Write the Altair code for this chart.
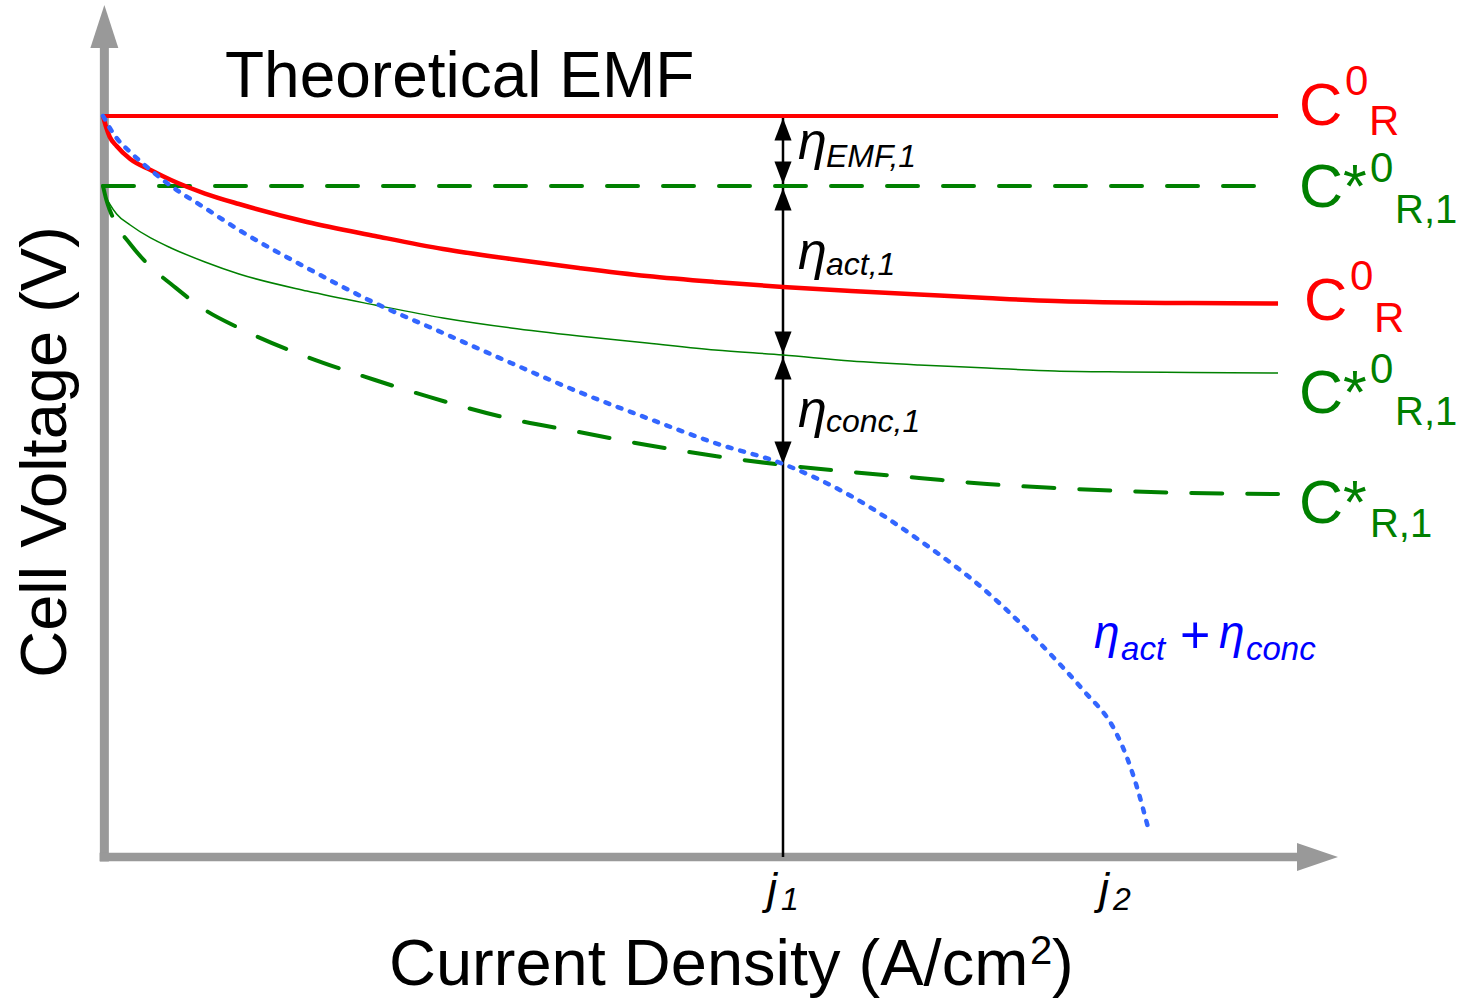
import altair as alt
import pandas as pd

# ---------------- data (j in units of j1, V normalised to theoretical EMF) ----------------
J_GRID = [0, 0.005, 0.01, 0.02, 0.04, 0.07, 0.1, 0.15, 0.2, 0.3, 0.4, 0.5, 0.6, 0.7,
          0.8, 0.9, 1.0, 1.1, 1.2, 1.3, 1.4, 1.5, 1.6, 1.728]
V_RED = [1.0, 0.9838, 0.9717, 0.9595, 0.9420, 0.9271, 0.9136, 0.8954, 0.8812, 0.8570,
         0.8381, 0.8205, 0.8070, 0.7949, 0.7841, 0.7760, 0.7692, 0.7638, 0.7591, 0.7544,
         0.7503, 0.7483, 0.7476, 0.7470]
V_GREEN_THIN = [0.9055, 0.8893, 0.8812, 0.8677, 0.8529, 0.8354, 0.8219, 0.8030, 0.7868,
                0.7638, 0.7449, 0.7274, 0.7139, 0.7031, 0.6937, 0.6842, 0.6775, 0.6694,
                0.6640, 0.6599, 0.6559, 0.6545, 0.6538, 0.6532]
V_GREEN_DASH = [0.9055, 0.8866, 0.8731, 0.8529, 0.8273, 0.7962, 0.7733, 0.7382, 0.7139,
                0.6748, 0.6437, 0.6154, 0.5911, 0.5735, 0.5560, 0.5412, 0.5290, 0.5196,
                0.5115, 0.5034, 0.4980, 0.4939, 0.4912, 0.4899]
J_BLUE = [0, 0.005, 0.01, 0.02, 0.04, 0.07, 0.1, 0.15, 0.2, 0.3, 0.4, 0.5, 0.6, 0.7,
          0.8, 0.9, 1.0, 1.1, 1.2, 1.3, 1.4, 1.44, 1.49, 1.505, 1.52, 1.537]
V_BLUE = [1.0, 0.9919, 0.9838, 0.9703, 0.9514, 0.9271, 0.9055, 0.8758, 0.8462, 0.7949,
          0.7476, 0.7072, 0.6667, 0.6275, 0.5924, 0.5587, 0.5304, 0.4872, 0.4278, 0.3576,
          0.2672, 0.2267, 0.1673, 0.1363, 0.0958, 0.0391]
EMF = [1.0]
EMF_STAR = [0.9055]
J_END = [1.728]
J1 = [1.0]
ARROW_UP_TIPS = [0.9973, 0.9028, 0.6748]
ARROW_DOWN_TIPS = [0.9082, 0.6788, 0.5304]

# text labels: (text, j, V, size, colour, italic, angle)
LABELS = [
    ("Theoretical EMF", 0.1794, 1.0256, 64, "black", False, 0),
    ("Cell Voltage (V)", -0.0544, 0.5466, 65, "black", False, 270),
    ("Current Density (A/cm", 0.4206, -0.1727, 65, "black", False, 0),
    ("2", 1.3632, -0.1444, 40, "black", False, 0),
    (")", 1.3956, -0.1727, 65, "black", False, 0),
    ("j", 0.9765, -0.0634, 45, "black", True, 0),
    ("1", 0.9971, -0.0715, 32, "black", True, 0),
    ("j", 1.4647, -0.0634, 45, "black", True, 0),
    ("2", 1.4853, -0.0715, 32, "black", True, 0),
    ("η", 1.0221, 0.9420, 52, "black", True, 0),
    ("EMF,1", 1.0632, 0.9312, 32, "black", True, 0),
    ("η", 1.0221, 0.7935, 52, "black", True, 0),
    ("act,1", 1.0632, 0.7854, 32, "black", True, 0),
    ("η", 1.0221, 0.5803, 52, "black", True, 0),
    ("conc,1", 1.0632, 0.5735, 32, "black", True, 0),
    ("η", 1.4574, 0.2821, 46, "#0000ff", True, 0),
    ("act", 1.4971, 0.2659, 33, "#0000ff", True, 0),
    ("+", 1.5838, 0.2753, 52, "#0000ff", False, 0),
    ("η", 1.6412, 0.2821, 46, "#0000ff", True, 0),
    ("conc", 1.6809, 0.2659, 33, "#0000ff", True, 0),
    ("C", 1.7588, 0.9879, 60, "#ff0000", False, 0),
    ("0", 1.8265, 1.0283, 42, "#ff0000", False, 0),
    ("R", 1.8618, 0.9744, 42, "#ff0000", False, 0),
    ("C*", 1.7588, 0.8772, 61, "#008000", False, 0),
    ("0", 1.8632, 0.9109, 42, "#008000", False, 0),
    ("R,1", 1.9000, 0.8556, 40, "#008000", False, 0),
    ("C", 1.7662, 0.7247, 60, "#ff0000", False, 0),
    ("0", 1.8338, 0.7652, 42, "#ff0000", False, 0),
    ("R", 1.8691, 0.7085, 42, "#ff0000", False, 0),
    ("C*", 1.7588, 0.5992, 61, "#008000", False, 0),
    ("0", 1.8632, 0.6397, 42, "#008000", False, 0),
    ("R,1", 1.9000, 0.5830, 40, "#008000", False, 0),
    ("C*", 1.7588, 0.4507, 61, "#008000", False, 0),
    ("R,1", 1.8632, 0.4318, 40, "#008000", False, 0),
]

FONT = "Liberation Sans"
GRAY = "#999999"
xs = alt.Scale(domain=[-0.151471, 2.0], nice=False, zero=False)
ys = alt.Scale(domain=[-0.190283, 1.156545], nice=False, zero=False)
X = lambda f="j": alt.X(f"{f}:Q", scale=xs, axis=None)
Y = lambda f="v": alt.Y(f"{f}:Q", scale=ys, axis=None)


def curve(js, vs, color, width, dash=None, cap="butt"):
    df = pd.DataFrame({"j": js, "v": vs})
    kw = dict(color=color, strokeWidth=width, interpolate="monotone", strokeCap=cap)
    if dash:
        kw["strokeDash"] = dash
    return alt.Chart(df).mark_line(**kw).encode(x=X(), y=Y())


def hrule(v, j0, j1, color, width, dash=None, cap="butt"):
    df = pd.DataFrame({"j": [j0], "j2": [j1], "v": [v]})
    kw = dict(color=color, strokeWidth=width, strokeCap=cap)
    if dash:
        kw["strokeDash"] = dash
    return alt.Chart(df).mark_rule(**kw).encode(x=X(), x2="j2:Q", y=Y())


def vrule(j, v0, v1, color, width):
    df = pd.DataFrame({"j": [j], "v": [v0], "v2": [v1]})
    return alt.Chart(df).mark_rule(color=color, strokeWidth=width).encode(x=X(), y=Y(), y2="v2:Q")


def heads(js, vs, shape, size, color):
    df = pd.DataFrame({"j": js, "v": vs})
    return alt.Chart(df).mark_point(shape=shape, size=size, filled=True, color=color,
                                    opacity=1, strokeWidth=0).encode(x=X(), y=Y())


def label(txt, j, v, size, color, italic, angle):
    df = pd.DataFrame({"j": [j], "v": [v], "t": [txt]})
    kw = dict(font=FONT, fontSize=size, color=color, align="center" if angle else "left",
              baseline="alphabetic")
    if italic:
        kw["fontStyle"] = "italic"
    if angle:
        kw["angle"] = angle
    return alt.Chart(df).mark_text(**kw).encode(x=X(), y=Y(), text="t:N")


layers = [
    # axes with arrow heads
    vrule(0.002, -0.006, 1.0918, GRAY, 9),
    hrule(0.0, -0.005, 1.7559, GRAY, 8.5),
    heads([0.002], [1.1208], "M0,-1L0.65,1L-0.65,1Z", 1849, GRAY),
    heads([1.7860], [0.0], "M1,0L-1,0.68L-1,-0.68Z", 1681, GRAY),
    # j1 marker line and overpotential arrows
    vrule(J1[0], 0.0, EMF[0], "black", 2.5),
    heads(J1 * 3, ARROW_UP_TIPS, "M0,0L0.38,1L-0.38,1Z", 2025, "black"),
    heads(J1 * 3, ARROW_DOWN_TIPS, "M0,0L0.38,-1L-0.38,-1Z", 2025, "black"),
    # curves
    hrule(EMF[0], 0.0, J_END[0], "#ff0000", 4),
    hrule(EMF_STAR[0], 0.0, J_END[0], "#008000", 4, dash=[31, 25], cap="round"),
    curve(J_GRID, V_RED, "#ff0000", 4.5),
    curve(J_GRID, V_GREEN_THIN, "#008000", 1.5),
    curve(J_GRID, V_GREEN_DASH, "#008000", 4, dash=[31, 25], cap="round"),
    curve(J_BLUE, V_BLUE, "#3366ff", 4.5, dash=[4, 9], cap="round"),
]
layers += [label(*l) for l in LABELS]

chart = alt.layer(*layers).properties(
    width=1463, height=998, padding=0,
    autosize=alt.AutoSizeParams(type="none"),
    background="white",
).configure_view(stroke=None)

chart.save("out.html", embed_options={"renderer": "svg", "actions": False})
